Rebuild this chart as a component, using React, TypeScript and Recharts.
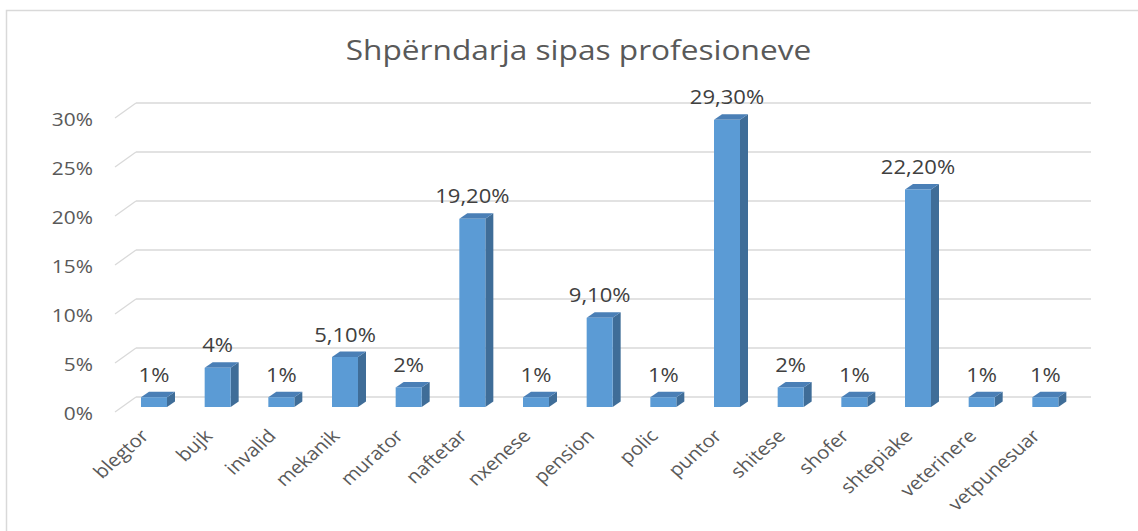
import React from 'react';
import { BarChart, Bar, XAxis, YAxis, CartesianGrid, LabelList } from 'recharts';

const categories = ['blegtor', 'bujk', 'invalid', 'mekanik', 'murator', 'naftetar', 'nxenese', 'pension', 'polic', 'puntor', 'shitese', 'shofer', 'shtepiake', 'veterinere', 'vetpunesuar'];
const values = [1, 4, 1, 5.1, 2, 19.2, 1, 9.1, 1, 29.3, 2, 1, 22.2, 1, 1];
const yTicks = [0, 5, 10, 15, 20, 25, 30];
const title = 'Shpërndarja sipas profesioneve';

const data = categories.map((c, i) => ({ name: c, value: values[i] }));

const FONT = "'Open Sans', sans-serif";
const SX = 1.13;
const DX = -14;
const DY = 10;
const SIDE_X = 8;
const SIDE_Y = 5.5;

const fmt = (v: number) => (Number.isInteger(v) ? `${v}%` : `${v.toFixed(2).replace('.', ',')}%`);

const Bar3D = (props: any) => {
  const { x, y, width, height } = props;
  const fx = x + DX;
  const fy = y + DY;
  const w = width;
  const h = height;
  return (
    <g>
      <polygon
        points={`${fx + w},${fy} ${fx + w + SIDE_X},${fy - SIDE_Y} ${fx + w + SIDE_X},${fy + h - SIDE_Y} ${fx + w},${fy + h}`}
        fill="#3F6D98"
      />
      <polygon
        points={`${fx},${fy} ${fx + SIDE_X},${fy - SIDE_Y} ${fx + w + SIDE_X},${fy - SIDE_Y} ${fx + w},${fy}`}
        fill="#4A7FB6"
      />
      <rect x={fx} y={fy} width={w} height={h} fill="#5B9BD5" />
    </g>
  );
};

const YTick = (props: any) => {
  const { x, y, payload } = props;
  return (
    <g>
      <line x1={x} y1={y} x2={x - 21} y2={y + 15} stroke="#D9D9D9" strokeWidth={1.3} />
      <text
        transform={`translate(93,${y + 23}) scale(${SX},1)`}
        textAnchor="end"
        fontFamily={FONT}
        fontSize={18.5}
        fill="#595959"
      >
        {`${payload.value}%`}
      </text>
    </g>
  );
};

const XTick = (props: any) => {
  const { x, y, payload } = props;
  return (
    <text
      transform={`translate(${x + DX - 4},${y + 40}) scale(${SX},1) rotate(-45)`}
      textAnchor="end"
      fontFamily={FONT}
      fontSize={18}
      fill="#595959"
    >
      {payload.value}
    </text>
  );
};

const DataLabel = (props: any) => {
  const { x, y, width, value } = props;
  return (
    <text
      transform={`translate(${x + DX + width / 2},${y + DY - 15.5}) scale(${SX},1)`}
      textAnchor="middle"
      fontFamily={FONT}
      fontSize={19.5}
      fill="#404040"
    >
      {fmt(value)}
    </text>
  );
};

export default function App() {
  return (
    <div style={{ position: 'absolute', left: 0, top: 0, width: 1138, height: 531, background: '#fff' }}>
      <svg width={1138} height={531} style={{ position: 'absolute', left: 0, top: 0 }}>
        <rect x={6.5} y={10.5} width={1200} height={600} fill="#fff" stroke="#D9D9D9" strokeWidth={1.5} />
        <text
          transform={`translate(578.5,60) scale(${SX},1)`}
          textAnchor="middle"
          fontFamily={FONT}
          fontSize={28}
          fill="#595959"
        >
          {title}
        </text>
      </svg>
      <div style={{ position: 'absolute', left: 0, top: 0 }}>
        <BarChart
          width={1138}
          height={531}
          data={data}
          margin={{ top: 103, right: 47, bottom: 0, left: 0 }}
        >
          <CartesianGrid horizontal vertical={false} stroke="#D9D9D9" strokeWidth={1.3} strokeDasharray="" />
          <YAxis
            width={136}
            domain={[0, 30]}
            ticks={yTicks}
            interval={0}
            axisLine={false}
            tickLine={false}
            tickSize={0}
            tickMargin={0}
            tick={<YTick />}
          />
          <XAxis
            dataKey="name"
            height={134}
            interval={0}
            axisLine={false}
            tickLine={false}
            tickSize={0}
            tickMargin={0}
            tick={<XTick />}
          />
          <Bar dataKey="value" barSize={26} isAnimationActive={false} shape={<Bar3D />}>
            <LabelList dataKey="value" content={<DataLabel />} />
          </Bar>
        </BarChart>
      </div>
    </div>
  );
}
